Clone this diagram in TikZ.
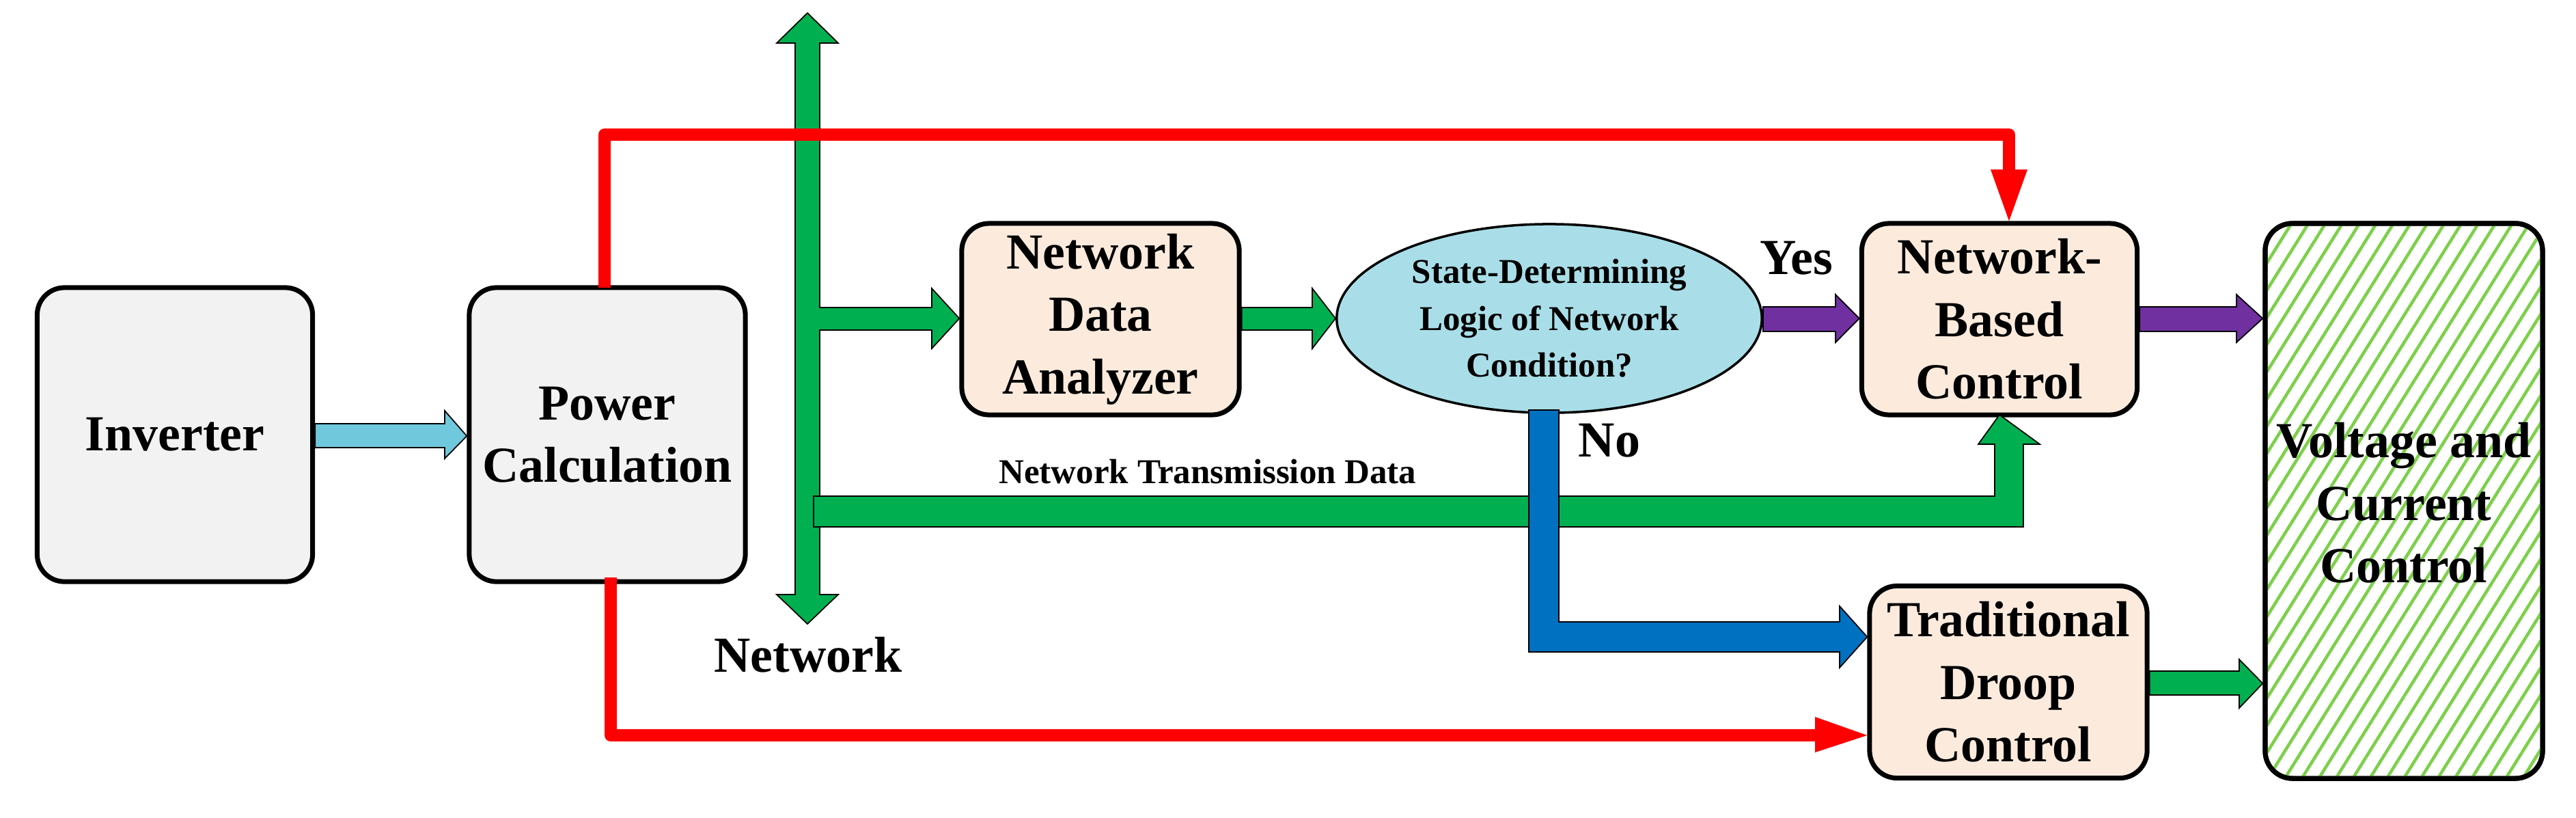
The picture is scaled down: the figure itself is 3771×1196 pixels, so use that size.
\documentclass[tikz,border=0pt]{standalone}
\usepackage{fontspec}
\setmainfont{Liberation Serif}
\usetikzlibrary{patterns.meta,shapes.geometric}
\definecolor{gbox}{HTML}{F2F2F2}
\definecolor{peach}{HTML}{FCEBDD}
\definecolor{ell}{HTML}{A9DEE8}
\definecolor{cy}{HTML}{70C8DC}
\definecolor{gr}{HTML}{00B050}
\definecolor{pu}{HTML}{7030A0}
\definecolor{bl}{HTML}{0070C0}
\definecolor{rd}{HTML}{FF0000}
\definecolor{hatch}{HTML}{7CD04A}
\begin{document}
\begin{tikzpicture}[x=0.01cm,y=-0.01cm,
  box/.style={draw=black,line width=2pt,rounded corners=0.4cm,align=center,
    font=\fontsize{21}{26}\selectfont\bfseries,inner sep=0pt},
  fat/.style={draw=black,line width=0.5pt},
  red/.style={draw=rd,line width=0.18cm,line join=round},
  lbl/.style={font=\fontsize{21}{26}\selectfont\bfseries,inner sep=0pt}]
\useasboundingbox (0,0) rectangle (3771,1196);
% boxes
\node[box,fill=gbox,minimum width=4.03cm,minimum height=4.3cm] (inv) at (256,636) {Inverter};
\node[box,fill=gbox,minimum width=4.04cm,minimum height=4.3cm] (pc) at (889,636) {Power\\Calculation};
\node[box,fill=peach,minimum width=4.06cm,minimum height=2.8cm] (nda) at (1611,467) {Network\\Data\\Analyzer};
\node[ellipse,draw=black,line width=1pt,fill=ell,minimum width=6.22cm,minimum height=2.76cm,align=center,inner sep=0pt,
  font=\fontsize{14.5}{19.5}\selectfont\bfseries] (sd) at (2268,466) {State-Determining\\Logic of Network\\Condition?};
\node[box,fill=peach,minimum width=4.03cm,minimum height=2.8cm] (nbc) at (2927,467) {Network-\\Based\\Control};
\node[box,fill=peach,minimum width=4.06cm,minimum height=2.81cm] (tdc) at (2940,998) {Traditional\\Droop\\Control};
\node[box,fill=white,minimum width=4.06cm,minimum height=8.12cm] (vcc) at (3519,733) {};
\fill[pattern={Lines[angle=58,distance=6pt,line width=1.3pt]},pattern color=hatch,rounded corners=0.4cm]
  (3316,327) rectangle (3722,1139);
\draw[line width=2pt,rounded corners=0.4cm] (3316,327) rectangle (3722,1139);
\node[lbl,align=center] (vcct) at (3519,736) {Voltage and\\Current\\Control};
% cyan arrow
\draw[fat,fill=cy] (inv.east |- 0,620) -- (651,620) -- (651,601) -- (pc.west |- 0,638) -- (651,671) -- (651,655) -- (inv.east |- 0,655) -- cycle;
% green vertical
\draw[fat,fill=gr] (1164,63) -- (1137,63) -- (1182,19) -- (1227,63) -- (1200,63) -- (1200,870) -- (1227,870) -- (1182,913) -- (1137,870) -- (1164,870) -- cycle;
\draw[fat,fill=gr] (1199,450) -- (1364,450) -- (1364,422) -- (nda.west |- 0,466) -- (1364,510) -- (1364,483) -- (1199,483);
\fill[gr] (1190,451) rectangle (1205,482);
\draw[fat,fill=gr] (1191,726) -- (2920,726) -- (2920,650) -- (2896,650) -- (nbc.south |- 0,607) -- (2986,650) -- (2962,650) -- (2962,771) -- (1191,771) -- cycle;
% green nda -> sd
\draw[fat,fill=gr] (nda.east |- 0,450) -- (1921,450) -- (1921,422) -- (sd.west) -- (1921,510) -- (1921,483) -- (nda.east |- 0,483) -- cycle;
% purple
\draw[fat,fill=pu] (sd.east |- 0,449) -- (2687,449) -- (2687,431) -- (nbc.west |- 0,466) -- (2687,501) -- (2687,485) -- (sd.east |- 0,485) -- cycle;
\draw[fat,fill=pu] (nbc.east |- 0,449) -- (3274,449) -- (3274,431) -- (vcc.west |- 0,466) -- (3274,501) -- (3274,485) -- (nbc.east |- 0,485) -- cycle;
% blue
\draw[fat,fill=bl] (2238,600) -- (2238,954) -- (2693,954) -- (2693,977) -- (tdc.west |- 0,932) -- (2693,887) -- (2693,910) -- (2282,910) -- (2282,600) -- cycle;
% green tdc -> vcc
\draw[fat,fill=gr] (tdc.east |- 0,982) -- (3278,982) -- (3278,965) -- (vcc.west |- 0,1000) -- (3278,1036) -- (3278,1017) -- (tdc.east |- 0,1017) -- cycle;
% red
\coordinate (r1) at (885,197);
\coordinate (r2) at (2941,197);
\draw[red] (885,421) -- (r1) -- (r2) -- (2941,250);
\fill[rd] (2914,248) -- (nbc.north -| 2941,0) -- (2968,248) -- cycle;
\draw[red] (894,845) -- (894,1076) -- (2660,1076);
\fill[rd] (2657,1049) -- (tdc.west |- 0,1076) -- (2657,1101) -- cycle;
% labels
\node[lbl] at (2630,378) {Yes};
\node[lbl] at (2356,645) {No};
\node[lbl] at (1183,958) {Network};
\node[font=\fontsize{14.5}{18}\selectfont\bfseries,inner sep=0pt] at (1768,690) {Network Transmission Data};
\end{tikzpicture}
\end{document}
